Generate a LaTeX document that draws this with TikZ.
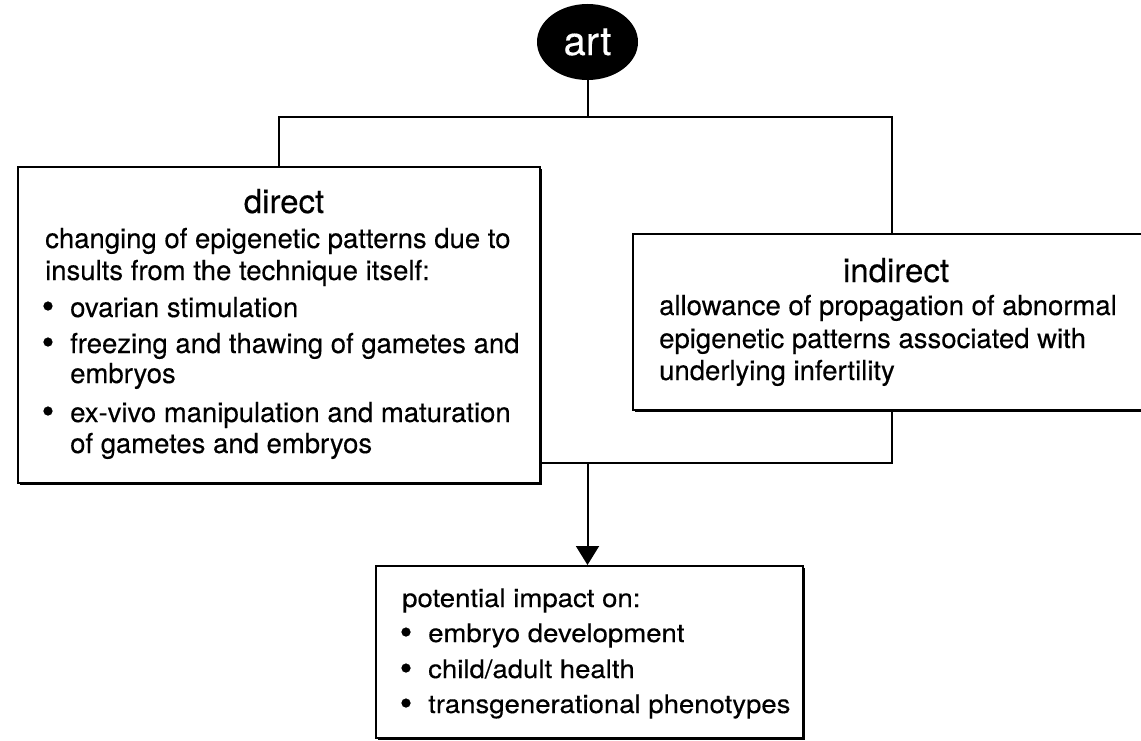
\documentclass[tikz,border=0pt]{standalone}
\usepackage{fontspec}
\setmainfont{TeX Gyre Heros}[FakeBold=0.3]
\newfontfamily\widefont[FakeStretch=1.08,FakeBold=0.3]{TeX Gyre Heros}
\usetikzlibrary{shapes.geometric,arrows.meta,shadows}
\newcommand{\upfont}{\fontsize{27.5pt}{31pt}\selectfont}
\newcommand{\lowfont}{\widefont\fontsize{25.5pt}{31pt}\selectfont}
\newcommand{\titlefont}{\fontsize{33pt}{36pt}\selectfont}
\newcommand{\bulfont}{\fontsize{36pt}{36pt}\selectfont}
\begin{document}
\begin{tikzpicture}[x=1pt,y=-1pt,
  boxstyle/.style={draw, line width=2pt, fill=white, inner sep=0pt,
    drop shadow={opacity=1, fill=black, shadow xshift=1.8pt, shadow yshift=-1.8pt}},
  conn/.style={line width=2pt},
  arrowconn/.style={line width=2pt, -{Triangle[length=19pt,width=23pt]}},
  txt/.style={inner sep=0pt, anchor=base west, font=\upfont},
  lowtxt/.style={inner sep=0pt, anchor=base west, font=\lowfont},
  bul/.style={inner sep=0pt, anchor=center, font=\bulfont},
  ttl/.style={inner sep=0pt, anchor=base, font=\titlefont}]
\useasboundingbox (0,0) rectangle (1141,741);

% boxes
\node[ellipse, fill=black, inner sep=0pt, minimum width=101pt, minimum height=76pt,
  text=white, font=\fontsize{40pt}{40pt}\selectfont] (art) at (587.5,42) {art};
\node[boxstyle, minimum width=522pt, minimum height=316pt] (direct) at (279,325) {};
\node[boxstyle, minimum width=517pt, minimum height=176pt] (indirect) at (891.5,322) {};
\node[boxstyle, minimum width=427pt, minimum height=172pt] (impact) at (589.5,652) {};

% connectors
\coordinate (split) at (587.5,117);
\coordinate (merge) at (587.5,463);
\draw[conn] (art.south) -- (split);
\draw[conn] (direct.north) |- (split) -| (indirect.north);
\draw[conn] (indirect.south) |- (merge) -- (merge -| direct.east);
\draw[arrowconn] (merge) -- (merge |- impact.north);

% direct text
\node[ttl] (dtitle) at (284,213) {direct};
\node[txt] (d1) at (45,248) {changing of epigenetic patterns due to};
\node[txt] (d2) at (45,280) {insults from the technique itself:};
\node[bul] (db1) at (48,310) {\textbullet};
\node[txt] (d3) at (70,317) {ovarian stimulation};
\node[bul] (db2) at (48,346) {\textbullet};
\node[txt] (d4) at (70,353) {freezing and thawing of gametes and};
\node[txt] (d5) at (70,383) {embryos};
\node[bul] (db3) at (48,415) {\textbullet};
\node[txt] (d6) at (70,422) {ex-vivo manipulation and maturation};
\node[txt] (d7) at (70,453) {of gametes and embryos};

% indirect text
\node[ttl] (ititle) at (896,282) {indirect};
\node[txt] (i1) at (659,315) {allowance of propagation of abnormal};
\node[txt] (i2) at (659,348) {epigenetic patterns associated with};
\node[txt] (i3) at (659,380) {underlying infertility};

% impact text
\node[lowtxt] (p0) at (402,607) {potential impact on:};
\node[bul] (pb1) at (406,636) {\textbullet};
\node[lowtxt] (p1) at (428,642) {embryo development};
\node[bul] (pb2) at (406,672) {\textbullet};
\node[lowtxt] (p2) at (428,678) {child/adult health};
\node[bul] (pb3) at (406,707) {\textbullet};
\node[lowtxt] (p3) at (428,713) {transgenerational phenotypes};
\end{tikzpicture}
\end{document}
